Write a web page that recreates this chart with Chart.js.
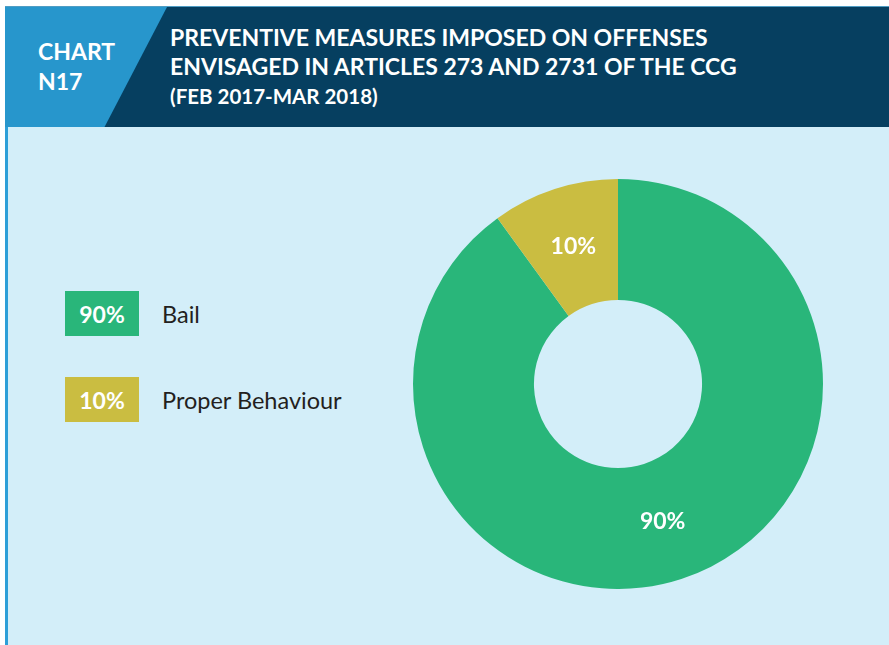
<!DOCTYPE html>
<html>
<head>
<meta charset="utf-8">
<script src="https://cdn.jsdelivr.net/npm/chart.js@4/dist/chart.umd.min.js"></script>
<style>
  body { margin: 0; width: 889px; height: 645px; background: #fff; overflow: hidden; font-family: Lato, "Open Sans", sans-serif; position: relative; }
  .header { position: absolute; left: 5px; top: 6px; width: 884px; height: 121px; background: #063f60; border-top: 1px solid #4f9dc4; box-sizing: border-box; }
  .tag { position: absolute; left: 0; top: 0; width: 162px; height: 121px; background: #2796cc; clip-path: polygon(0 0, 162px 0, 99px 121px, 0 121px); }
  .tag div { position: absolute; left: 33px; top: 29px; color: #fff; font-weight: 700; font-size: 23px; line-height: 30px; }
  .title { position: absolute; left: 165px; top: 16px; color: #fff; font-weight: 700; font-size: 23px; line-height: 29px; }
  .title .sub { font-size: 20.5px; }
  .body { position: absolute; left: 5px; top: 127px; width: 884px; height: 518px; background: #d3eef9; border-left: 3px solid #2d9fd8; box-sizing: border-box; }
  .legend { position: absolute; left: 65px; top: 291px; }
  .item { display: flex; align-items: center; height: 45px; margin-bottom: 41px; }
  .box { width: 74px; height: 45px; color: #fff; font-weight: 700; font-size: 23px; display: flex; align-items: center; justify-content: center; }
  .label { margin-left: 23px; font-size: 23.5px; color: #231f20; }
  .wrap { position: absolute; left: 413px; top: 179px; width: 410px; height: 410px; }
</style>
</head>
<body>
<div class="header">
  <div class="tag"><div>CHART<br>N17</div></div>
  <div class="title">PREVENTIVE MEASURES IMPOSED ON OFFENSES<br>ENVISAGED IN ARTICLES 273 AND 2731 OF THE CCG<br><span class="sub">(FEB 2017-MAR 2018)</span></div>
</div>
<div class="body"></div>
<div class="legend" id="legend"></div>
<div class="wrap"><canvas id="donut"></canvas></div>
<script>
const labels = ["Bail", "Proper Behaviour"];
const shares = [90, 10];
const colors = ["#29b67a", "#cabd41"];

// legend on the left, one coloured tag per category
const legend = document.getElementById("legend");
labels.forEach((name, i) => {
  const row = document.createElement("div");
  row.className = "item";
  row.innerHTML = `<div class="box" style="background:${colors[i]}">${shares[i]}%</div><div class="label">${name}</div>`;
  legend.appendChild(row);
});

// percentage written in the middle of each slice
const sliceLabels = {
  id: "sliceLabels",
  afterDatasetsDraw(chart) {
    const ctx = chart.ctx;
    ctx.save();
    ctx.fillStyle = "#fff";
    ctx.font = "700 23px Lato, 'Open Sans', sans-serif";
    ctx.textAlign = "center";
    ctx.textBaseline = "middle";
    chart.getDatasetMeta(0).data.forEach((arc, i) => {
      const p = arc.tooltipPosition();
      ctx.fillText(shares[i] + "%", p.x, p.y);
    });
    ctx.restore();
  },
};

new Chart(document.getElementById("donut"), {
  type: "doughnut",
  data: {
    labels: labels,
    datasets: [{ data: shares, backgroundColor: colors, borderWidth: 0, hoverOffset: 0 }],
  },
  options: {
    responsive: true,
    maintainAspectRatio: false,
    animation: false,
    cutout: "41%",
    plugins: { legend: { display: false }, tooltip: { enabled: false } },
  },
  plugins: [sliceLabels],
});
</script>
</body>
</html>
